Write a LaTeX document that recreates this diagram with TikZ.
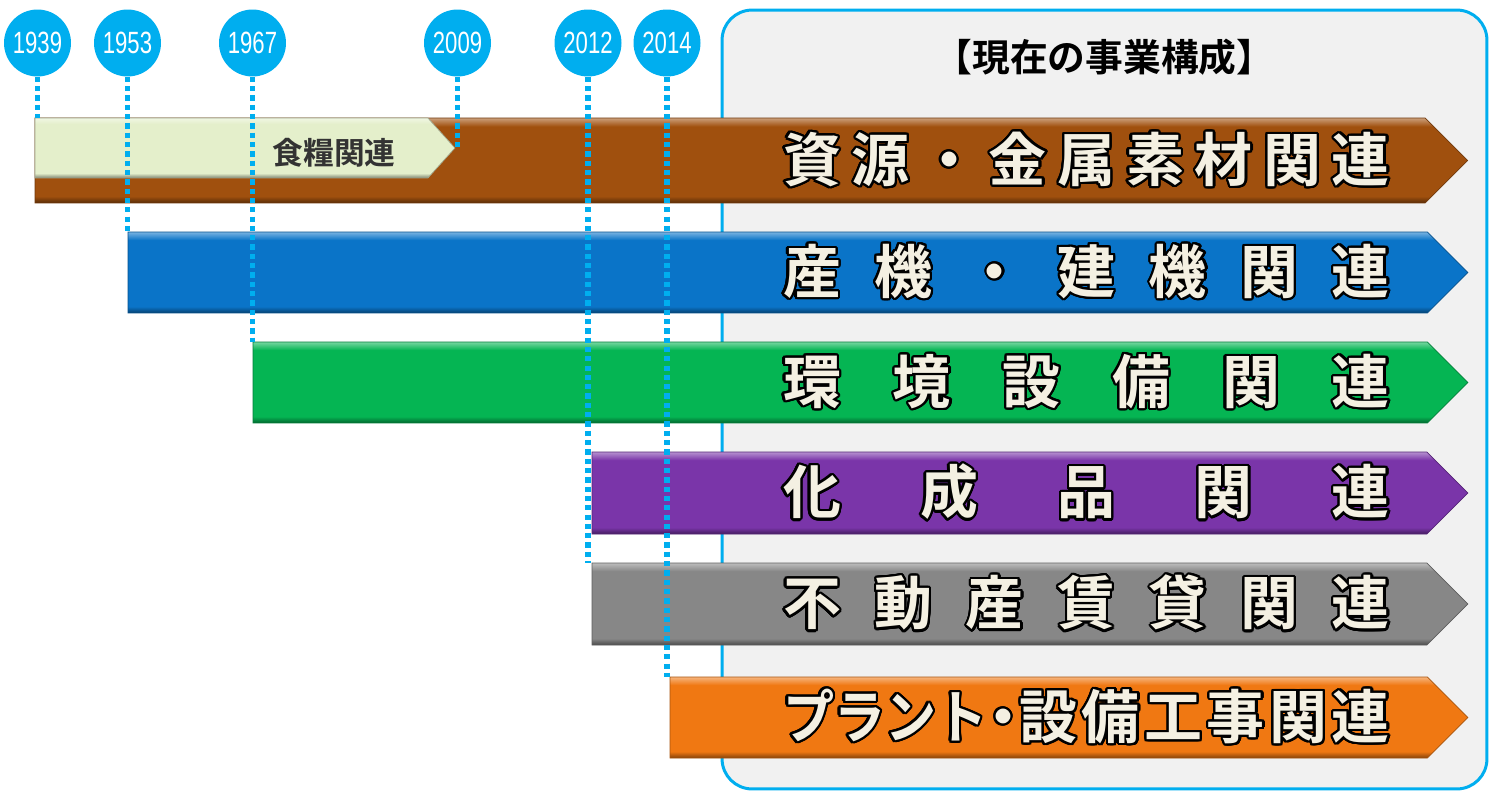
\documentclass[tikz,border=0pt]{standalone}
\usepackage{fontspec}
\usepackage{contour}
\usetikzlibrary{shapes.arrows}

\newfontfamily\jpfont{Noto Sans CJK JP}[BoldFont={* Bold}]
\newfontfamily\yearfont{Liberation Sans}[FakeStretch=0.72]

\definecolor{yearblue}{HTML}{00AEEF}
\definecolor{panelgray}{HTML}{F1F1F1}
\definecolor{labelcream}{HTML}{F4F0E2}
\definecolor{foodtext}{HTML}{333333}
\definecolor{brownbar}{HTML}{A0500E}
\definecolor{bluebar}{HTML}{0A74C8}
\definecolor{greenbar}{HTML}{05B553}
\definecolor{purplebar}{HTML}{7A35A9}
\definecolor{graybar}{HTML}{878787}
\definecolor{orangebar}{HTML}{F07812}
\definecolor{foodbar}{HTML}{E4EFCB}

\colorlet{bartop}{white}
\colorlet{barmid}{gray}
\colorlet{barbot}{black}
\pgfdeclareverticalshading[bartop,barmid,barbot]{bevel}{100bp}{color(0bp)=(barbot); color(25bp)=(barbot); color(29bp)=(barmid); color(70bp)=(barmid); color(75bp)=(bartop); color(100bp)=(bartop)}

\contourlength{1.3pt}
\contournumber{24}

% spread the characters of a bar label over a fixed width
\newcommand{\spreadtext}[1]{\contour{black}{\makebox[12.14cm][s]{#1}}}

\tikzset{
  bar/.style={single arrow, single arrow head extend=0pt, single arrow tip angle=90,
    inner sep=0pt, outer sep=0pt, anchor=tail, shading=bevel, draw=#1!70!black, line width=0.4pt,
    /utils/exec={\colorlet{barmid}{#1}\colorlet{bartop}{#1!55!white}\colorlet{barbot}{#1!55!black}}},
  barlabel/.style={font=\jpfont\bfseries\fontsize{33}{33}\selectfont, text=labelcream, inner sep=0pt},
  year/.style={circle, fill=yearblue, minimum size=1.34cm, inner sep=0pt, text=white,
    font=\yearfont\fontsize{17.5}{17.5}\selectfont},
  timeline/.style={draw=yearblue, line width=3pt, dash pattern=on 3pt off 2.3pt},
  panel/.style={draw=yearblue, fill=panelgray, line width=1.7pt, rounded corners=0.6cm}
}

\begin{document}
\begin{tikzpicture}[x=0.02cm, y=-0.02cm]

\fill[white] (0,0) rectangle (1493,791);
\useasboundingbox (0,0) rectangle (1493,791);

% current business panel
\node[panel, minimum width=15.3cm, minimum height=15.58cm] (panel) at (1104.5,399.5) {};
\node[font=\jpfont\bfseries\fontsize{21.5}{21.5}\selectfont] (title) at (1104.5,57) {【現在の事業構成】};

% business bars
\node[bar=brownbar, minimum width=1.7cm, minimum height=28.66cm] (metal) at (35,160.5) {};
\node[bar=foodbar, minimum width=1.2cm, minimum height=8.4cm, single arrow tip angle=96] (food) at (35,148) {};
\node[bar=bluebar, minimum width=1.62cm, minimum height=26.8cm] (machine) at (128,272.5) {};
\node[bar=greenbar, minimum width=1.62cm, minimum height=24.3cm] (envir) at (253,382.5) {};
\node[bar=purplebar, minimum width=1.64cm, minimum height=17.52cm] (chem) at (592,493) {};
\node[bar=graybar, minimum width=1.64cm, minimum height=17.52cm] (estate) at (592,604) {};
\node[bar=orangebar, minimum width=1.62cm, minimum height=15.96cm] (plant) at (670,717.5) {};

\node[font=\jpfont\bfseries\fontsize{17.5}{17.5}\selectfont, text=foodtext] (food text) at (334,153) {食糧関連};

% years
\node[year] (y1939) at (37.5,43) {1939};
\node[year] (y1953) at (127.5,43) {1953};
\node[year] (y1967) at (252.5,43) {1967};
\node[year] (y2009) at (457.5,43) {2009};
\node[year] (y2012) at (588,43) {2012};
\node[year] (y2014) at (667,43) {2014};

\draw[timeline] (y1939.south) -- (y1939.south |- metal.north);
\draw[timeline] (y1953.south) -- (y1953.south |- machine.north);
\draw[timeline] (y1967.south) -- (y1967.south |- envir.north);
\draw[timeline] (y2009.south) -- (y2009.south |- food.tip);
\draw[timeline] (y2012.south) -- (y2012.south |- estate.north);
\draw[timeline] (y2014.south) -- (y2014.south |- plant.north);

% bar labels
\node[barlabel] (metal text) at (1086.5,160.5) {\spreadtext{資\hfill 源\hfill ・\hfill 金\hfill 属\hfill 素\hfill 材\hfill 関\hfill 連}};
\node[barlabel] (machine text) at (1086.5,272.5) {\spreadtext{産\hfill 機\hfill ・\hfill 建\hfill 機\hfill 関\hfill 連}};
\node[barlabel] (envir text) at (1086.5,382.5) {\spreadtext{環\hfill 境\hfill 設\hfill 備\hfill 関\hfill 連}};
\node[barlabel] (chem text) at (1086.5,493) {\spreadtext{化\hfill 成\hfill 品\hfill 関\hfill 連}};
\node[barlabel] (estate text) at (1086.5,604) {\spreadtext{不\hfill 動\hfill 産\hfill 賃\hfill 貸\hfill 関\hfill 連}};
\node[barlabel] (plant text) at (1086.5,717.5) {\spreadtext{\scalebox{0.88}[1]{プラント}\hfill\makebox[0.4em][c]{・}\hfill 設\hfill 備\hfill 工\hfill 事\hfill 関\hfill 連}};

\end{tikzpicture}
\end{document}
